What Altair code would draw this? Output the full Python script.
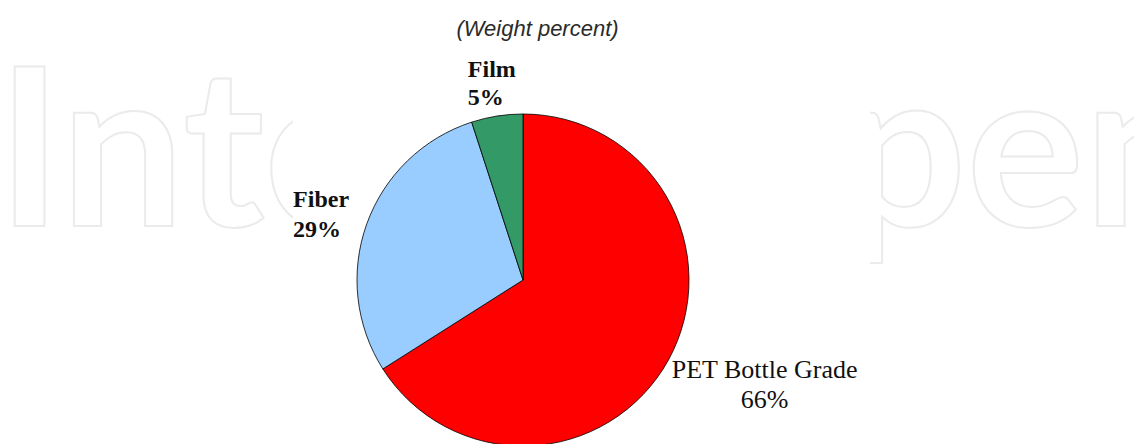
import altair as alt
import pandas as pd

# ---- data ----
categories = ["PET Bottle Grade", "Fiber", "Film"]
values = [66, 29, 5]
colors = ["#FF0000", "#99CCFF", "#339966"]
title_text = "(Weight percent)"
watermark_left = "Inte"
watermark_right = "pen"

df = pd.DataFrame({"category": categories, "value": values, "order": list(range(len(categories)))})

W, H = 1126, 436
CX, CY = 515, 272
R = 166

theta_scale = alt.Scale(domain=[0, 100])

base = (
    alt.Chart(df)
    .transform_stack(stack="value", as_=["start", "end"], groupby=[], sort=[alt.SortField("order")])
    .transform_calculate(mid="(datum.start + datum.end) / 2",
                         label="datum.category + '\\n' + datum.value + '%'")
)

pie = base.mark_arc(outerRadius=R, stroke="#000000", strokeWidth=0.8).encode(
    theta=alt.Theta("start:Q", scale=theta_scale),
    theta2="end:Q",
    color=alt.Color("category:N", scale=alt.Scale(domain=categories, range=colors), legend=None),
    x=alt.value(CX),
    y=alt.value(CY),
)


def label_layer(cat, radius, align, dx, dy, size, weight, lh):
    return base.transform_filter(alt.datum.category == cat).mark_text(
        radius=radius, align=align, dx=dx, dy=dy, font="Liberation Serif", fontSize=size,
        fontWeight=weight, baseline="top", lineBreak="\n", lineHeight=lh, color="#111111"
    ).encode(
        theta=alt.Theta("mid:Q", scale=theta_scale, stack=False),
        text="label:N",
        x=alt.value(CX),
        y=alt.value(CY),
    )

lab_pet = label_layer("PET Bottle Grade", 254, "center", 19, -45, 26, "normal", 30)
lab_fiber = label_layer("Fiber", 272, "left", 26, 0, 24, "bold", 30)
lab_film = label_layer("Film", 225, "left", -20, 0, 24, "bold", 28)

title = alt.Chart(pd.DataFrame({"t": [title_text]})).mark_text(
    font="Liberation Sans", fontStyle="italic", fontSize=22, align="center",
    baseline="alphabetic", color="#2a2a2a"
).encode(text="t:N", x=alt.value(529.5), y=alt.value(28))

wm_style = dict(font="Lato", fontWeight="bold", fontSize=220, baseline="alphabetic",
                fill="#ffffff", stroke="#ebebeb", strokeWidth=2)
wm_left = alt.Chart(pd.DataFrame({"t": [watermark_left]})).mark_text(align="left", **wm_style).encode(
    text="t:N", x=alt.value(-11), y=alt.value(218))
wm_right = alt.Chart(pd.DataFrame({"t": [watermark_right]})).mark_text(align="right", **wm_style).encode(
    text="t:N", x=alt.value(1200), y=alt.value(218))
cover = alt.Chart(pd.DataFrame({"t": [0]})).mark_rect(color="#ffffff").encode(
    x=alt.value(285), x2=alt.value(862), y=alt.value(0), y2=alt.value(H))

chart = alt.layer(wm_left, wm_right, cover, pie, lab_pet, lab_fiber, lab_film, title).properties(
    width=W, height=H, padding=0, autosize=alt.AutoSizeParams(type="none"), background="#ffffff"
).configure_view(stroke=None)

chart.save("out.html", embed_options={"renderer": "svg", "actions": False})
